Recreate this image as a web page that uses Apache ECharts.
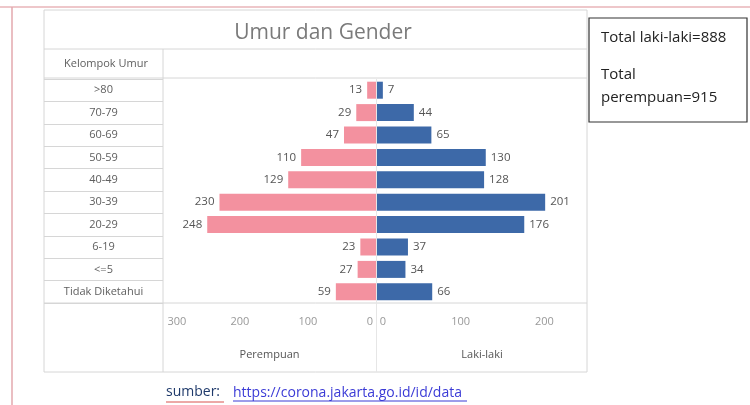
<!DOCTYPE html>
<html><head><meta charset="utf-8">
<script src="https://cdn.jsdelivr.net/npm/echarts@6/dist/echarts.min.js"></script>
<style>html,body{margin:0;padding:0;background:#fff}#c{width:750px;height:405px}</style>
</head><body><div id="c"></div>
<script>
const categories = [">80", "70-79", "60-69", "50-59", "40-49", "30-39", "20-29", "6-19", "<=5", "Tidak Diketahui"];
const perempuan = [13, 29, 47, 110, 129, 230, 248, 23, 27, 59];
const lakiLaki = [7, 44, 65, 130, 128, 201, 176, 37, 34, 66];
const perempuanTicks = [0, 100, 200, 300];
const lakiTicks = [0, 100, 200];

const FONT = '"Open Sans", sans-serif';
const chart = echarts.init(document.getElementById('c'), null, {renderer: 'canvas'});
const G = '#d6d6d6';
function line(x1, y1, x2, y2, color, w) {
  return {type: 'line', silent: true, shape: {x1, y1, x2, y2}, style: {stroke: color || G, lineWidth: w || 1}};
}
chart.setOption({
  animation: false,
  textStyle: {fontFamily: FONT},
  title: {
    text: 'Umur dan Gender', left: 318, top: 18, textAlign: 'center',
    textStyle: {fontFamily: FONT, fontSize: 21, fontWeight: 'normal', color: '#7a7a7a'}
  },
  grid: [
    {left: 44, top: 79, width: 119, height: 224},
    {left: 163, top: 79, width: 213, height: 224},
    {left: 377, top: 79, width: 210, height: 224}
  ],
  xAxis: [
    {gridIndex: 0, type: 'value', show: false},
    {gridIndex: 1, type: 'value', inverse: true, min: 0, max: 313, interval: 100,
     name: 'Perempuan', nameLocation: 'middle', nameGap: 46,
     nameTextStyle: {color: '#555', fontSize: 11, fontFamily: FONT},
     axisLine: {show: false}, axisTick: {show: false}, splitLine: {show: false},
     axisLabel: {color: '#999', fontSize: 11, margin: 13, showMaxLabel: false,
       formatter: v => v === 0 ? '{l|0}' : (v === 300 ? '{r|300}' : (perempuanTicks.includes(v) ? String(v) : '')),
       rich: {l: {padding: [0, 12, 0, 0], color: '#999', fontSize: 11},
              r: {padding: [0, 0, 0, 10], color: '#999', fontSize: 11}}}},
    {gridIndex: 2, type: 'value', min: 0, max: 251, interval: 100,
     name: 'Laki-laki', nameLocation: 'middle', nameGap: 46,
     nameTextStyle: {color: '#555', fontSize: 11, fontFamily: FONT},
     axisLine: {show: false}, axisTick: {show: false}, splitLine: {show: false},
     axisLabel: {color: '#999', fontSize: 11, margin: 13, showMaxLabel: false,
       formatter: v => v === 0 ? '{z|0}' : (lakiTicks.includes(v) ? String(v) : ''),
       rich: {z: {padding: [0, 0, 0, 12], color: '#999', fontSize: 11}}}}
  ],
  yAxis: [
    {gridIndex: 0, type: 'category', data: categories, inverse: true,
     axisLine: {show: false}, axisTick: {show: false},
     splitLine: {show: true, lineStyle: {color: G}},
     axisLabel: {inside: true, margin: 59.5, align: 'center', color: '#5e5e5e', fontSize: 11, fontFamily: FONT}},
    {gridIndex: 1, type: 'category', data: categories, inverse: true, show: false},
    {gridIndex: 2, type: 'category', data: categories, inverse: true, show: false}
  ],
  series: [
    {type: 'bar', name: 'Perempuan', xAxisIndex: 1, yAxisIndex: 1, data: perempuan, barWidth: 17,
     itemStyle: {color: '#f3919f'},
     label: {show: true, position: 'left', distance: 5, color: '#555', fontSize: 11.5, fontFamily: FONT}},
    {type: 'bar', name: 'Laki-laki', xAxisIndex: 2, yAxisIndex: 2, data: lakiLaki, barWidth: 17,
     itemStyle: {color: '#3d69a8'},
     label: {show: true, position: 'right', distance: 5, color: '#555', fontSize: 11.5, fontFamily: FONT}}
  ],
  graphic: [
    line(0, 7, 750, 7, '#e8b4b8', 1.5),
    line(12, 7, 12, 405, '#e3a9ae', 1.5),
    line(44, 10, 44, 372),
    line(587, 10, 587, 372),
    line(44, 10, 587, 10),
    line(44, 49, 587, 49),
    line(44, 78, 587, 78),
    line(44, 303, 587, 303),
    line(44, 372, 587, 372),
    line(163, 49, 163, 372),
    line(376.5, 79, 376.5, 372, '#e6e6e6'),
    {type: 'text', left: 64, top: 58, silent: true,
     style: {text: 'Kelompok Umur', fill: '#5e5e5e', font: '11px ' + FONT}},
    {type: 'rect', silent: true, shape: {x: 589, y: 18, width: 158, height: 104},
     style: {fill: '#fff', stroke: '#333', lineWidth: 1.2}},
    {type: 'text', left: 601, top: 30, silent: true,
     style: {text: 'Total laki-laki=888', fill: '#222', font: '15px ' + FONT}},
    {type: 'text', left: 601, top: 67, silent: true,
     style: {text: 'Total', fill: '#222', font: '15px ' + FONT}},
    {type: 'text', left: 601, top: 90, silent: true,
     style: {text: 'perempuan=915', fill: '#222', font: '15px ' + FONT}},
    {type: 'text', left: 166, top: 385, silent: true,
     style: {text: 'sumber:', fill: '#1f3a6b', font: '14px ' + FONT}},
    line(166, 402, 224, 402, '#d9534f', 1),
    {type: 'text', left: 233, top: 386, silent: true,
     style: {text: 'https://corona.jakarta.go.id/id/data', fill: '#3b3bd6', font: '14px ' + FONT}},
    line(233, 401, 467, 401, '#3b3bd6', 1)
  ]
});
</script></body></html>
